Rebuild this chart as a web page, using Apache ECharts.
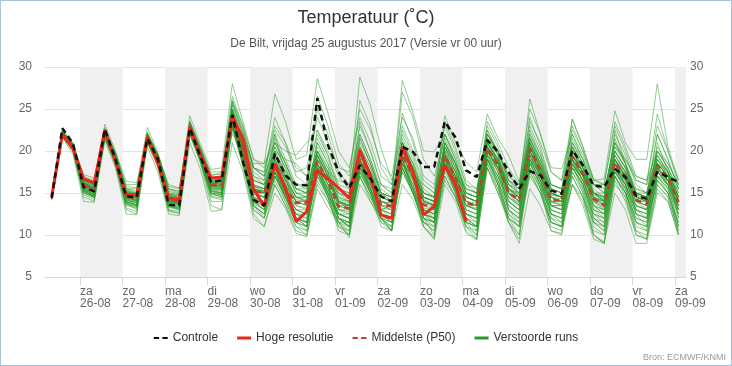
<!DOCTYPE html>
<html><head><meta charset="utf-8">
<script src="https://cdn.jsdelivr.net/npm/echarts@6/dist/echarts.min.js"></script>
<style>
html,body{margin:0;padding:0;background:#fff}
#c{position:absolute;left:0;top:0;width:732px;height:366px}
#f{position:absolute;left:0;top:0;width:732px;height:366px;box-sizing:border-box;border:1px solid #a8c3dc;pointer-events:none}
</style>
</head><body><div id="c"></div><div id="f"></div>
<script>
// x axis in hours since 25-08-2017 00:00 (local time); data every 6 h from 25-08 08:00
const dayTicks = [24,48,72,96,120,144,168,192,216,240,264,288,312,336,360];
const dayLabels = ['za\n26-08','zo\n27-08','ma\n28-08','di\n29-08','wo\n30-08','do\n31-08','vr\n01-09','za\n02-09','zo\n03-09','ma\n04-09','di\n05-09','wo\n06-09','do\n07-09','vr\n08-09','za\n09-09'];
const shadedDays = [[24,48],[72,96],[120,144],[168,192],[216,240],[264,288],[312,336],[360,366.2]];

const controle = [14.4, 22.7,20.9,15.7,15.2, 22.6,19.0,14.6,14.5, 21.5,19.0,13.6,13.5, 22.7,19.3,16.3,16.5, 24.3,18.7,14.2,13.5, 19.7,17.1,16.0,15.9, 26.3,20.7,17.5,15.6, 18.3,16.7,14.6,14.0, 20.5,19.9,18.1,18.1, 23.5,21.6,17.7,16.9, 21.3,19.9,17.5,15.5, 17.6,17.1,15.3,14.9, 20.1,18.3,15.9,15.7, 17.9,16.9,14.7,14.3, 17.5,16.9,16.3];
const hogeResolutie = [14.6, 22.0,20.3,16.7,16.2, 22.5,18.8,14.8,14.8, 21.7,18.5,14.4,14.2, 22.9,19.5,16.8,16.9, 24.1,21.5,15.5,13.4, 18.5,15.6,11.6,12.8, 17.7,16.7,15.6,14.4, 20.1,17.1,12.4,12.0, 20.5,17.5,12.4,13.4, 18.3,16.0,11.6];
const middelste = [14.5, 22.0,20.5,16.0,15.3, 22.2,19.0,14.6,14.3, 21.6,19.0,14.2,14.0, 22.6,19.4,16.0,15.8, 24.0,20.0,15.2,15.0, 18.3,15.5,13.8,13.8, 18.7,16.5,13.4,13.2, 19.0,16.5,13.6,13.4, 19.5,17.0,13.6,13.3, 19.5,16.8,13.8,13.5, 20.3,18.4,15.0,14.2, 20.3,17.6,14.2,14.1, 19.3,17.3,14.3,13.5, 18.6,17.0,14.2,13.7, 18.3,16.8,13.9];

const verstoordeRuns = [
[14.5, 22.2,20.7,16.3,15.6, 22.5,19.2,15.0,14.6, 21.8,19.3,14.6,14.2, 23.0,19.8,16.4,16.2, 24.8,20.5,15.8,15.2, 19.0,16.2,14.2,14.0, 19.5,17.0,13.8,13.5, 20.0,17.2,14.0,13.8, 20.5,17.8,14.2,13.6, 20.0,17.5,14.5,14.0, 21.0,18.8,15.5,14.8, 21.0,18.0,14.8,14.5, 20.0,17.8,15.0,14.2, 19.5,17.5,14.6,14.0, 19.0,17.2,14.5],
[14.2, 21.7,20.0,15.0,14.5, 21.5,18.5,13.5,13.2, 21.0,18.3,13.0,12.8, 22.0,18.8,14.5,14.2, 22.5,18.5,13.0,12.0, 16.5,14.0,11.5,11.0, 17.0,15.0,12.0,11.5, 17.5,15.0,12.5,12.0, 18.0,15.5,12.0,11.5, 18.0,15.5,12.5,12.0, 19.0,16.5,13.0,12.0, 18.5,16.0,12.5,12.0, 17.5,15.5,12.0,11.0, 17.0,15.0,12.0,11.5, 16.5,15.0,11.5],
[14.6, 22.5,21.0,17.0,16.5, 23.2,20.0,16.0,16.0, 22.8,19.8,15.5,15.2, 24.2,20.8,17.8,18.0, 28.0,23.5,19.0,18.5, 26.8,23.5,19.0,19.5, 28.6,24.5,20.0,18.0, 24.0,21.0,17.0,16.0, 22.0,19.0,15.0,14.5, 21.0,18.0,14.5,14.0, 22.5,19.5,15.0,14.0, 21.0,18.0,15.0,14.5, 20.0,18.0,15.0,14.0, 19.5,17.5,14.5,14.0, 19.0,17.0,14.0],
[14.3, 21.8,20.2,14.5,14.0, 21.8,18.8,13.0,12.5, 21.2,18.5,13.0,12.5, 22.3,18.5,13.5,13.0, 23.0,18.0,12.5,11.0, 16.0,13.5,10.5,10.0, 16.0,14.0,11.5,10.0, 18.5,15.5,12.0,10.5, 19.0,16.0,12.0,10.0, 18.5,15.5,11.5,10.0, 19.0,16.0,12.5,11.0, 19.0,16.5,13.0,12.5, 18.0,16.0,12.0,11.5, 18.0,16.0,13.0,12.0, 17.0,15.5,12.5],
[14.5, 22.0,20.6,16.5,15.8, 22.0,19.5,15.5,15.0, 21.5,19.5,15.0,14.8, 22.8,20.0,16.8,16.5, 25.5,22.0,17.5,16.5, 21.5,18.5,15.5,15.0, 21.0,18.5,15.0,14.0, 23.5,20.0,16.0,15.0, 24.5,21.0,16.5,15.5, 22.0,19.0,15.5,15.0, 23.0,20.5,16.5,15.0, 24.0,20.5,16.0,15.5, 22.0,19.0,15.5,14.5, 21.5,18.5,15.0,14.5, 22.0,19.0,15.5],
[14.4, 22.3,20.8,15.5,14.8, 22.3,18.5,14.0,13.5, 21.5,18.8,14.0,13.8, 22.5,19.2,15.5,15.0, 23.5,19.0,14.0,13.0, 18.0,15.0,12.5,11.5, 18.5,16.0,12.0,11.0, 19.0,16.0,12.5,12.0, 19.5,16.5,13.0,12.5, 18.0,15.5,12.0,10.5, 20.0,18.0,14.5,13.5, 20.5,17.0,13.5,13.0, 19.0,16.5,13.0,12.0, 17.5,16.0,12.5,12.0, 18.0,16.5,13.0],
[14.7, 22.4,20.9,16.8,16.2, 22.8,19.8,15.5,15.5, 22.0,19.5,15.8,15.5, 23.5,20.5,17.0,17.5, 26.5,23.0,19.0,18.0, 22.5,20.5,17.5,18.0, 24.0,21.0,18.0,17.5, 25.0,22.5,18.5,17.0, 24.0,21.5,17.0,16.0, 23.0,20.0,16.0,15.0, 22.0,20.0,16.5,15.5, 26.2,22.0,17.5,16.5, 23.8,20.5,16.5,16.7, 24.8,21.0,19.0,19.0, 28.0,20.5,16.5],
[14.3, 21.9,20.3,15.8,15.0, 21.9,18.8,14.2,13.8, 21.3,18.6,13.8,13.6, 22.4,19.0,15.4,15.2, 23.5,19.5,14.5,14.0, 17.5,14.5,12.0,11.5, 17.5,15.0,12.0,11.0, 17.0,14.5,11.9,11.0, 17.5,15.0,11.5,10.5, 16.5,14.5,11.0,9.5, 18.0,15.0,12.0,11.0, 17.0,15.0,11.5,11.0, 16.0,14.5,10.5,10.0, 16.0,14.5,10.5,10.0, 16.0,14.5,10.5],
[14.5, 22.1,20.5,16.2,15.5, 22.4,19.1,14.8,14.4, 21.7,19.1,14.3,14.1, 22.8,19.6,16.2,16.0, 24.5,20.8,16.0,15.5, 20.0,17.0,14.5,14.5, 18.0,16.0,13.0,13.0, 19.5,17.0,14.5,14.0, 21.0,18.0,14.0,13.5, 19.5,17.0,14.0,13.5, 20.5,18.5,15.5,14.5, 20.5,17.5,14.0,14.0, 19.0,17.0,14.5,13.5, 18.5,17.0,14.5,14.0, 18.5,17.0,14.0],
[14.6, 22.2,20.6,16.6,15.9, 22.1,19.3,15.2,14.8, 22.0,19.2,14.8,14.5, 23.0,19.9,16.5,16.5, 25.0,22.0,18.0,17.5, 23.0,21.0,18.0,17.0, 22.0,19.5,16.0,15.5, 28.8,25.4,20.3,16.5, 20.0,17.5,14.5,14.0, 19.5,17.0,13.5,13.0, 21.0,19.0,15.0,14.0, 20.0,17.5,14.0,13.5, 19.5,17.5,14.0,13.0, 19.0,17.5,14.0,13.5, 18.0,16.5,13.5],
[14.4, 21.8,20.4,15.2,14.6, 21.7,18.6,14.3,14.0, 21.4,18.7,14.0,13.8, 22.2,19.0,15.6,15.5, 24.0,19.5,14.5,13.5, 17.0,14.5,12.5,12.0, 18.0,15.5,12.5,12.5, 18.5,15.5,13.0,12.5, 19.0,16.5,13.0,12.5, 19.0,16.5,13.0,12.5, 20.0,18.0,15.0,13.5, 19.5,17.0,13.5,13.5, 18.5,16.5,13.5,13.0, 18.0,16.5,13.5,13.0, 17.5,16.0,13.5],
[14.2, 21.6,19.6,14.0,13.9, 21.2,18.0,12.5,12.4, 20.5,17.5,12.5,12.3, 21.0,17.8,12.8,13.0, 21.0,17.5,12.0,11.0, 15.0,13.2,10.2,9.8, 15.5,13.2,11.5,9.7, 16.0,14.0,12.0,10.5, 16.0,14.2,11.0,9.5, 16.0,14.0,10.2,9.5, 18.0,15.0,11.5,9.0, 15.5,13.5,10.5,10.2, 16.0,13.5,9.5,9.0, 15.0,13.0,9.0,9.0, 15.0,14.0,10.0],
[14.5, 22.0,20.5,16.0,15.4, 22.0,19.0,14.6,14.4, 21.6,19.0,14.2,14.0, 22.7,19.4,16.0,15.8, 24.2,20.0,15.5,15.0, 18.5,15.5,14.0,13.5, 19.0,16.5,13.5,13.0, 18.5,16.0,13.0,13.5, 20.0,17.5,14.0,13.0, 19.0,17.0,14.0,13.5, 20.5,18.5,15.0,14.5, 21.0,18.0,14.5,14.0, 19.5,17.0,14.0,13.5, 19.0,17.0,14.0,14.0, 18.5,17.0,14.0],
[14.6, 22.3,20.8,16.5,15.8, 22.6,19.5,15.2,14.9, 22.2,19.5,15.0,14.8, 23.4,20.0,16.8,16.8, 26.0,22.5,18.0,17.0, 24.0,21.0,17.0,16.0, 26.5,23.0,18.5,17.0, 22.0,19.0,15.5,14.5, 27.0,24.0,19.0,17.0, 21.5,18.5,15.0,14.5, 22.0,19.5,15.5,14.5, 22.5,19.5,15.5,15.0, 21.0,18.5,15.0,14.0, 22.0,19.5,16.0,15.0, 20.0,18.0,15.5],
[14.3, 21.9,20.2,15.6,14.9, 21.6,18.7,14.4,14.2, 21.2,18.6,14.0,13.7, 22.2,19.0,15.2,15.0, 23.0,18.5,13.5,12.5, 17.0,15.0,12.0,11.0, 18.0,15.5,12.0,11.5, 18.0,15.5,12.5,11.5, 18.5,15.5,12.5,12.0, 18.5,16.0,12.5,12.0, 19.5,17.0,13.5,12.5, 19.0,16.5,12.5,12.0, 18.0,16.0,12.5,11.5, 17.5,15.5,12.0,11.5, 17.0,15.5,12.0],
[14.5, 22.1,20.7,16.4,15.7, 22.3,19.3,15.0,14.7, 21.9,19.3,14.7,14.4, 23.0,19.8,16.4,16.3, 24.8,21.0,16.5,16.0, 19.5,17.5,15.5,15.5, 20.0,18.0,14.5,14.0, 21.5,18.5,15.0,14.0, 22.5,19.5,15.5,14.5, 21.0,18.5,15.5,15.0, 21.5,20.0,17.0,16.0, 22.0,19.5,16.0,15.5, 21.0,19.0,16.0,15.5, 20.5,19.0,16.5,16.0, 20.5,18.5,16.0],
[14.4, 21.7,20.1,15.4,14.8, 21.8,18.9,14.1,13.9, 21.5,18.9,13.9,13.6, 22.6,19.3,15.7,15.4, 23.8,19.8,15.0,14.5, 18.0,15.5,13.0,12.5, 18.5,16.0,13.0,12.5, 19.0,16.5,13.5,13.5, 19.5,17.0,13.0,12.5, 20.5,17.5,13.5,13.0, 20.0,18.0,14.5,13.5, 20.0,17.0,13.5,13.0, 19.0,17.0,13.5,13.0, 18.5,16.5,13.0,12.5, 18.0,16.5,13.0],
[14.6, 22.0,20.6,17.2,16.8, 22.0,19.8,16.4,16.2, 21.3,19.6,16.0,15.6, 22.0,20.2,17.5,17.5, 22.0,20.0,18.0,17.0, 20.0,19.0,18.5,17.0, 19.0,17.5,16.5,16.0, 18.5,17.0,16.0,15.5, 18.5,17.0,16.0,15.0, 18.0,17.0,15.5,15.0, 19.0,18.0,16.5,16.0, 18.5,17.5,16.0,15.5, 18.0,17.0,16.0,16.0, 17.5,16.5,15.5,15.0, 17.0,16.5,15.5],
[14.5, 22.0,20.4,15.9,15.2, 22.2,18.9,14.4,14.1, 21.7,19.0,14.1,13.9, 22.5,19.3,15.8,15.7, 24.0,20.0,15.0,14.5, 18.0,15.0,13.0,13.0, 18.0,15.5,12.5,12.0, 19.0,16.5,13.5,13.0, 19.5,17.0,13.5,13.0, 19.5,16.5,13.5,13.5, 21.0,19.0,15.0,14.0, 20.0,17.5,14.0,14.0, 19.5,17.5,14.5,13.5, 18.0,16.5,13.5,13.0, 18.0,16.5,13.5],
[14.3, 21.8,20.0,14.8,14.2, 21.9,18.2,13.2,12.8, 21.0,18.0,12.8,12.6, 22.0,18.8,14.0,14.0, 23.5,18.5,13.0,12.0, 17.5,14.0,11.0,10.5, 18.0,14.5,10.5,10.0, 18.5,15.0,11.0,10.5, 19.0,15.5,11.0,9.8, 19.0,15.0,11.0,10.0, 20.0,16.5,12.0,10.0, 19.5,16.0,11.5,11.0, 19.0,15.5,11.0,10.0, 18.0,15.0,11.0,10.5, 17.0,15.0,11.0],
[14.6, 22.4,20.9,16.7,16.0, 22.6,19.7,15.4,15.0, 22.2,19.6,15.2,14.9, 23.6,20.3,16.8,16.7, 25.8,22.0,17.0,16.0, 20.5,18.0,15.0,14.5, 21.5,19.0,15.5,15.0, 20.5,18.0,15.0,14.5, 21.0,18.5,15.0,14.5, 24.2,21.0,18.7,17.5, 24.4,21.5,19.5,16.3, 25.0,22.0,18.0,17.9, 22.0,19.5,16.0,15.0, 21.0,18.5,15.5,15.0, 22.0,19.0,15.5],
[14.4, 21.9,20.3,15.7,15.1, 22.0,18.8,14.5,14.1, 21.5,18.8,14.1,13.9, 22.4,19.2,15.8,15.6, 23.5,19.5,14.5,14.0, 18.5,16.0,13.5,13.0, 17.5,15.5,12.5,12.0, 18.0,15.5,13.0,12.5, 18.5,16.5,13.0,12.5, 19.0,16.0,13.0,12.5, 19.5,17.5,14.0,13.0, 19.0,16.5,13.5,13.5, 18.5,16.5,13.0,12.5, 18.5,16.5,13.5,13.0, 18.0,16.5,13.0],
[14.5, 22.2,20.6,16.2,15.5, 22.4,19.3,14.9,14.6, 21.8,19.2,14.5,14.2, 22.9,19.7,16.3,16.0, 24.5,20.5,15.5,15.0, 19.5,16.5,14.5,14.5, 20.0,17.5,14.0,13.5, 20.5,18.0,14.5,14.0, 21.0,18.0,14.0,13.5, 20.5,18.0,14.5,14.0, 21.5,19.5,16.0,15.0, 21.5,18.5,15.0,14.5, 20.5,18.0,14.5,14.0, 20.0,18.0,15.0,14.5, 19.5,17.5,14.5],
[14.3, 21.8,20.2,15.5,14.8, 21.7,18.5,13.8,13.5, 21.1,18.4,13.5,13.3, 22.2,18.9,15.0,14.8, 23.0,18.5,14.0,13.5, 17.0,14.5,12.0,11.5, 17.5,14.5,11.5,11.5, 17.0,14.5,12.0,11.5, 18.0,15.0,12.0,11.5, 17.5,15.0,11.5,11.0, 18.5,16.0,12.5,11.5, 18.0,15.5,12.0,11.5, 17.5,15.0,11.5,11.0, 17.0,15.0,11.5,11.0, 16.5,15.0,11.0],
[14.5, 22.1,20.5,16.0,15.4, 22.2,19.1,14.7,14.4, 21.6,19.0,14.3,14.0, 22.8,19.5,16.1,15.9, 24.2,20.5,15.5,15.0, 19.0,16.5,14.0,13.5, 19.5,17.0,13.5,13.0, 20.0,17.0,13.5,13.0, 20.0,17.5,14.0,13.5, 20.5,18.0,14.5,14.0, 21.0,19.0,16.0,15.0, 23.0,20.0,16.0,15.5, 23.8,20.5,16.7,16.0, 23.0,20.0,16.5,16.0, 24.4,20.0,16.0],
[14.4, 22.0,20.3,15.2,14.5, 21.9,18.7,13.8,13.0, 21.4,18.7,13.5,13.0, 22.5,19.0,15.0,14.5, 24.0,19.5,13.5,12.5, 18.5,15.0,12.0,11.0, 18.0,15.0,12.0,11.0, 19.0,15.5,12.5,11.5, 19.0,15.5,12.0,11.0, 19.5,16.0,12.0,11.0, 20.5,17.5,13.0,12.0, 20.0,16.5,12.0,11.0, 19.5,16.0,11.5,10.5, 19.0,16.0,11.5,10.5, 18.5,16.0,11.0],
[14.6, 22.3,20.8,16.6,16.0, 22.6,19.6,15.3,14.9, 22.1,19.4,14.9,14.6, 23.4,20.2,16.8,16.6, 26.0,23.0,18.0,17.5, 22.0,19.0,16.0,16.0, 22.5,19.5,15.5,15.0, 23.0,20.0,16.0,15.0, 28.4,24.6,20.0,19.9, 22.0,19.5,16.0,15.5, 21.5,19.0,15.5,14.5, 21.5,18.5,15.0,14.5, 20.5,18.0,14.5,14.0, 20.0,18.0,14.5,14.0, 19.0,17.5,14.0],
[14.4, 21.9,20.3,15.6,15.0, 21.8,18.8,14.2,13.9, 21.4,18.7,13.9,13.7, 22.5,19.1,15.5,15.3, 23.5,19.0,14.0,13.5, 17.5,15.0,12.5,12.5, 18.0,15.5,12.5,12.0, 17.5,15.0,12.0,12.0, 18.5,16.0,12.5,12.0, 18.0,15.5,12.0,11.5, 19.0,17.0,13.5,12.5, 18.5,16.0,13.0,12.5, 18.0,16.0,12.5,12.0, 17.5,15.5,12.5,12.0, 17.5,16.0,12.5],
[14.5, 22.2,20.7,16.3,15.6, 22.5,19.4,15.1,14.7, 21.9,19.3,14.7,14.4, 23.1,19.9,16.5,16.3, 25.0,21.0,16.5,16.0, 20.0,17.5,15.0,15.0, 20.5,18.0,14.5,14.0, 21.0,18.5,15.0,14.5, 21.5,18.5,14.5,14.0, 21.0,18.5,15.0,14.5, 22.0,20.0,16.5,15.5, 21.5,19.0,15.5,15.0, 21.0,18.5,15.0,14.5, 20.5,18.5,15.0,15.0, 20.0,18.0,15.0],
[14.4, 21.8,20.2,15.3,14.7, 21.8,18.6,14.0,13.6, 21.3,18.6,13.6,13.4, 22.3,19.0,15.3,15.0, 23.0,19.0,14.0,13.0, 18.0,15.0,12.5,12.0, 17.0,14.5,12.5,12.0, 20.0,17.0,14.0,13.5, 20.5,17.0,13.0,12.0, 19.0,16.5,12.5,11.5, 20.5,18.0,14.0,13.0, 19.5,17.0,13.5,13.0, 20.0,17.5,13.5,12.5, 19.0,17.0,13.5,13.0, 18.5,17.0,13.5],
[14.4, 21.9,20.4,15.8,15.1, 22.0,18.9,14.4,14.1, 21.5,18.9,14.0,13.8, 22.5,19.2,15.8,15.5, 23.8,19.8,14.8,14.5, 18.0,15.2,13.5,13.2, 18.5,16.0,13.0,12.8, 18.8,16.2,13.2,13.0, 19.2,16.8,13.2,13.0, 19.2,16.5,13.5,13.2, 20.0,18.0,14.5,13.8, 20.0,17.2,13.8,13.8, 19.0,17.0,14.0,13.2, 18.3,16.8,14.0,13.5, 18.0,16.5,13.5],
[14.5, 22.1,20.6,16.2,15.5, 22.3,19.1,14.8,14.5, 21.7,19.1,14.4,14.2, 22.8,19.6,16.2,16.0, 24.3,20.3,15.5,15.2, 18.8,15.8,14.0,14.0, 19.0,16.8,13.8,13.5, 19.3,16.8,13.9,13.8, 19.8,17.3,14.0,13.6, 19.8,17.0,14.0,13.8, 20.6,18.7,15.3,14.5, 20.6,17.9,14.5,14.3, 19.6,17.5,14.5,13.8, 18.9,17.2,14.5,14.0, 18.6,17.0,14.2],
[14.5, 22.0,20.4,15.5,14.8, 22.5,19.0,14.0,13.8, 21.8,18.8,13.6,13.4, 23.0,19.5,15.2,14.8, 25.0,21.0,14.5,13.5, 22.0,17.0,12.0,11.0, 19.5,16.0,12.0,11.0, 20.5,17.0,12.5,11.5, 21.0,17.5,12.5,11.5, 20.0,16.5,12.0,11.0, 21.5,18.5,13.0,11.5, 21.0,17.5,12.5,11.5, 20.5,17.0,12.0,11.0, 22.5,18.5,12.5,11.0, 21.0,17.5,12.0],
[14.6, 22.2,20.8,16.8,16.2, 22.4,19.6,15.6,15.2, 22.0,19.5,15.4,15.0, 23.2,20.4,17.2,17.2, 24.5,21.5,18.5,18.5, 21.0,20.0,19.5,21.0, 22.5,20.0,17.0,15.5, 20.0,17.5,14.5,14.0, 20.5,18.0,15.0,14.5, 19.5,17.5,14.5,14.0, 20.5,19.0,16.0,15.5, 20.5,18.5,15.5,15.0, 19.5,18.0,15.0,14.5, 19.0,17.5,15.0,14.5, 18.5,17.5,15.0],
[14.5, 22.1,20.5,16.1,15.4, 22.2,19.1,14.7,14.4, 21.7,19.1,14.3,14.1, 22.7,19.5,16.0,15.8, 24.3,20.5,15.8,15.5, 19.5,17.0,14.5,14.0, 20.0,17.5,14.0,13.5, 26.0,23.0,18.0,16.0, 23.0,20.0,16.0,15.0, 22.0,19.0,15.0,14.5, 21.0,18.5,15.0,14.0, 20.5,18.0,14.5,14.0, 19.5,17.5,14.5,13.5, 19.0,17.0,14.0,13.5, 18.5,17.0,14.0],
[14.3, 21.8,20.1,15.3,14.6, 21.6,18.5,13.9,13.6, 21.0,18.3,13.4,13.1, 22.0,18.8,14.8,14.6, 23.0,18.8,13.8,13.0, 17.5,14.8,12.0,11.5, 17.5,15.0,12.0,11.5, 18.0,15.0,12.0,11.0, 18.0,15.0,11.5,10.5, 17.0,14.5,11.0,10.5, 18.5,15.5,11.5,10.0, 17.5,15.0,11.0,10.5, 17.0,14.5,10.0,9.2, 16.5,14.0,10.0,9.5, 16.0,14.5,10.5],
[14.5, 22.0,20.6,16.2,15.6, 22.2,19.2,14.9,14.6, 21.7,19.2,14.6,14.3, 22.8,19.7,16.3,16.1, 24.0,20.5,15.8,15.5, 19.0,16.5,14.5,14.0, 19.5,17.0,14.0,13.5, 19.5,17.0,14.0,13.5, 20.0,17.5,14.5,14.0, 21.0,18.5,15.0,14.5, 22.0,20.0,17.0,16.0, 23.5,21.0,17.5,16.5, 22.5,20.0,16.5,16.0, 23.5,20.5,17.0,16.5, 23.0,20.0,16.5],
[14.4, 21.9,20.2,15.4,14.7, 21.8,18.7,14.0,13.6, 21.2,18.5,13.6,13.4, 22.3,18.9,15.2,15.0, 23.2,18.8,13.5,12.0, 16.0,13.5,11.0,10.0, 16.5,14.0,11.0,10.0, 17.0,14.0,11.5,10.5, 18.5,15.5,12.5,12.0, 19.0,16.0,12.5,12.0, 20.0,17.5,14.0,13.0, 19.5,17.0,13.5,13.0, 18.5,16.5,13.0,12.5, 18.0,16.0,13.0,12.5, 18.0,16.0,13.0],
[14.5, 22.1,20.5,16.0,15.3, 22.3,19.0,14.6,14.3, 21.6,19.0,14.2,14.0, 22.7,19.4,16.0,15.8, 24.0,20.2,15.5,15.2, 20.5,18.0,15.0,14.5, 21.0,18.5,15.0,14.5, 22.0,19.0,15.0,14.0, 20.0,17.5,14.5,14.0, 18.5,16.5,13.5,13.0, 20.0,18.0,15.0,14.0, 22.0,19.0,15.0,14.5, 21.5,19.0,15.0,14.0, 20.0,18.0,15.0,14.5, 19.5,17.5,14.5],
[14.4, 21.9,20.3,15.6,15.0, 21.9,18.8,14.3,14.0, 21.4,18.8,14.0,13.7, 22.4,19.1,15.6,15.4, 23.6,19.3,14.3,13.8, 17.5,15.0,13.0,12.5, 17.5,15.0,12.5,12.0, 18.0,15.5,12.5,12.0, 18.5,16.0,12.5,12.0, 18.5,16.0,12.5,12.0, 19.0,17.0,14.0,13.0, 19.0,16.5,13.0,12.5, 18.5,16.5,13.5,12.5, 17.5,16.0,13.0,12.5, 17.0,16.0,13.0],
[14.6, 22.3,20.8,16.6,16.0, 22.5,19.5,15.2,14.8, 22.0,19.4,14.8,14.5, 23.2,20.0,16.6,16.5, 25.5,22.5,18.0,17.0, 21.0,18.5,15.5,15.0, 20.0,17.5,14.0,13.0, 18.5,16.0,13.0,12.0, 18.0,15.5,12.5,11.5, 18.0,15.5,12.0,11.0, 19.0,16.5,13.0,12.0, 18.5,16.0,12.5,12.0, 18.0,16.0,12.5,12.0, 18.0,16.0,12.5,12.0, 17.5,16.0,12.5],
[14.5, 22.0,20.6,16.8,16.3, 22.0,19.4,15.8,15.6, 21.5,19.3,15.5,15.2, 22.5,19.8,16.8,16.8, 23.0,20.0,16.5,16.0, 18.5,17.0,16.0,15.5, 18.0,16.5,15.0,14.5, 18.0,16.5,15.0,14.5, 18.5,17.0,15.0,14.5, 18.0,16.5,14.5,14.0, 19.5,18.0,15.5,15.0, 19.0,17.5,15.0,14.5, 18.5,17.0,15.0,14.5, 18.0,16.5,14.5,14.5, 17.5,16.5,14.5],
[14.5, 22.1,20.5,16.1,15.5, 22.3,19.2,14.8,14.5, 21.8,19.2,14.5,14.2, 22.9,19.6,16.2,16.0, 24.5,20.5,15.5,15.0, 19.0,16.5,14.0,13.5, 19.5,17.0,14.0,13.5, 20.0,17.5,14.0,13.5, 21.0,18.0,14.5,14.0, 23.5,20.5,16.5,15.5, 22.5,20.0,16.0,15.0, 21.0,18.5,15.0,14.5, 23.0,20.0,16.0,15.0, 21.0,18.5,15.0,14.5, 20.0,18.0,14.5],
[14.3, 21.8,20.1,15.1,14.5, 21.7,18.5,13.7,13.4, 21.2,18.4,13.4,13.2, 22.1,18.9,14.9,14.6, 23.2,19.0,14.0,13.0, 17.0,14.5,12.0,11.5, 17.0,14.5,11.5,11.0, 17.5,15.0,12.0,11.5, 17.5,15.0,12.0,11.5, 17.0,14.5,11.5,11.0, 18.0,15.5,12.0,11.0, 17.5,15.0,11.5,11.0, 17.0,14.5,11.5,10.5, 17.0,15.0,11.5,11.0, 16.5,15.0,11.5],
[14.5, 22.0,20.5,16.0,15.3, 22.2,19.0,14.5,14.2, 21.6,19.0,14.2,14.0, 22.6,19.4,15.9,15.7, 24.0,20.0,15.0,14.5, 18.3,15.5,13.0,12.5, 18.5,16.5,14.0,13.8, 19.0,16.5,13.0,12.5, 19.5,17.0,14.5,14.0, 19.5,17.0,13.0,12.5, 20.5,18.5,15.5,14.5, 20.0,17.5,14.0,13.5, 19.0,17.0,14.5,14.0, 18.5,17.0,14.0,13.0, 18.0,16.5,14.0],
[14.6, 22.3,20.7,16.5,15.9, 22.5,19.4,15.1,14.8, 22.0,19.4,14.9,14.6, 23.2,20.0,16.7,16.5, 25.0,21.5,17.0,16.5, 21.0,18.5,15.5,15.0, 25.0,22.0,17.5,16.0, 21.5,18.5,15.0,14.5, 21.0,18.5,15.0,14.5, 20.5,18.5,15.0,14.5, 23.5,21.0,18.0,16.0, 21.5,19.0,15.5,15.0, 20.5,18.5,15.0,14.5, 20.0,18.0,15.0,14.5, 19.5,17.5,14.5],
[14.4, 21.9,20.2,15.2,14.6, 21.9,18.6,13.8,13.4, 21.3,18.5,13.5,13.2, 22.3,19.0,15.0,14.8, 23.5,19.0,13.5,12.5, 18.0,14.5,11.5,10.5, 18.5,15.0,11.5,10.5, 19.0,15.5,12.0,10.5, 19.0,15.0,11.0,9.5, 18.5,15.0,10.5,9.4, 19.5,16.0,11.5,9.5, 19.0,15.5,10.5,10.0, 18.5,15.0,10.0,9.0, 18.5,15.5,10.5,9.5, 18.0,15.5,10.0],
[14.5, 22.2,20.6,16.3,15.6, 22.4,19.3,15.0,14.6, 21.8,19.2,14.5,14.3, 22.9,19.7,16.3,16.1, 24.6,20.8,16.0,15.5, 19.5,16.8,14.5,14.2, 19.8,17.2,14.2,14.0, 20.2,17.5,14.5,14.0, 20.5,17.8,14.5,14.0, 20.2,17.5,14.5,14.0, 21.0,19.0,15.5,14.8, 21.0,18.2,14.8,14.5, 20.0,18.0,14.8,14.2, 19.5,17.5,14.8,14.3, 19.0,17.5,14.5],
[14.5, 22.0,20.5,16.0,15.4, 22.1,19.0,14.7,14.4, 21.6,19.0,14.3,14.1, 22.6,19.4,16.0,15.8, 24.0,20.0,15.2,15.0, 18.5,16.0,14.0,14.0, 19.0,16.5,13.5,13.5, 19.5,17.0,14.0,13.5, 20.0,17.5,14.0,13.5, 19.5,17.0,14.0,13.5, 20.5,18.5,15.0,14.5, 20.0,17.5,14.5,14.0, 19.5,17.5,15.0,15.0, 21.0,19.0,17.0,16.5, 20.0,18.5,16.0],
[14.3, 21.7,20.0,15.0,14.4, 21.6,18.4,13.6,13.3, 21.1,18.3,13.3,13.0, 22.0,18.7,14.6,14.4, 22.8,18.5,13.5,12.5, 17.0,14.5,11.5,11.0, 17.5,14.5,11.0,10.5, 18.0,15.0,11.5,11.0, 18.0,15.0,11.5,11.0, 18.0,15.0,11.5,11.0, 19.0,16.0,12.0,11.0, 18.0,15.5,11.5,11.0, 16.0,14.0,10.0,9.0, 17.0,14.5,10.0,9.5, 15.5,14.0,10.0]
];

const hourOf = i => 8 + 6 * i;
const pts = arr => arr.map((v, i) => [hourOf(i), v]);

const FONT = 'Liberation Sans, Arial, sans-serif';
const DASH_ICON = 'path://M0,0H5V2H0ZM8,0H13V2H8Z';
const series = [];
series.push({
  type: 'line', data: [], silent: true,
  markArea: { silent: true, itemStyle: { color: '#f0f0f0' },
    data: shadedDays.map(d => [{ xAxis: d[0] }, { xAxis: d[1] }]) }
});
verstoordeRuns.forEach(run => series.push({
  name: 'Verstoorde runs', type: 'line', data: pts(run), symbol: 'none', silent: true,
  color: '#2a9a2a', lineStyle: { width: 1, color: '#2a9a2a', opacity: 0.5 }, z: 2
}));
series.push({ name: 'Middelste (P50)', type: 'line', data: pts(middelste), symbol: 'none',
  color: '#b8452c', lineStyle: { width: 2.5, type: [6, 4], color: '#b8452c' }, z: 3 });
series.push({ name: 'Hoge resolutie', type: 'line', data: pts(hogeResolutie), symbol: 'none',
  color: '#e8291c', lineStyle: { width: 3, color: '#e8291c' }, z: 4 });
series.push({ name: 'Controle', type: 'line', data: pts(controle), symbol: 'none',
  color: '#111', lineStyle: { width: 2.5, type: [6, 4], color: '#111' }, z: 5 });

const chart = echarts.init(document.getElementById('c'), null, { renderer: 'canvas' });
chart.setOption({
  animation: false,
  backgroundColor: '#fff',
  textStyle: { fontFamily: FONT },
  title: [
    { text: 'Temperatuur (˚C)', left: 'center', top: 4,
      textStyle: { fontSize: 18, fontWeight: 'normal', color: '#333', fontFamily: FONT } },
    { text: 'De Bilt, vrijdag 25 augustus 2017 (Versie vr 00 uur)', left: 'center', top: 33,
      textStyle: { fontSize: 12, fontWeight: 'normal', color: '#555', fontFamily: FONT } }
  ],
  legend: {
    top: 327, left: 'center', itemWidth: 14, itemHeight: 3, itemGap: 19,
    textStyle: { fontSize: 12, color: '#333', fontFamily: FONT },
    data: [
      { name: 'Controle', icon: DASH_ICON },
      { name: 'Hoge resolutie', icon: 'rect' },
      { name: 'Middelste (P50)', icon: DASH_ICON },
      { name: 'Verstoorde runs', icon: 'rect' }
    ]
  },
  grid: { left: 45, right: 46, top: 67, bottom: 89, containLabel: false },
  xAxis: {
    type: 'value', min: 4.2, max: 366.2,
    axisLine: { show: true, lineStyle: { color: '#ccd6eb' } },
    axisTick: { show: true, length: 8, customValues: dayTicks, lineStyle: { color: '#ccd6eb' } },
    axisLabel: { customValues: dayTicks, align: 'left', margin: 9, lineHeight: 12,
      color: '#666', fontSize: 12, fontFamily: FONT,
      formatter: v => dayLabels[dayTicks.indexOf(v)] || '' },
    splitLine: { show: false }
  },
  yAxis: [
    { type: 'value', min: 5, max: 30, interval: 5, position: 'left',
      axisLine: { show: false }, axisTick: { show: false },
      axisLabel: { margin: 13, color: '#666', fontSize: 12, fontFamily: FONT },
      splitLine: { lineStyle: { color: '#dfe3e8' } } },
    { type: 'value', min: 5, max: 30, interval: 5, position: 'right',
      axisLine: { show: false }, axisTick: { show: false },
      axisLabel: { margin: 4, color: '#666', fontSize: 12, fontFamily: FONT },
      splitLine: { show: false } }
  ],
  graphic: [{ type: 'text', right: 6, bottom: 4,
    style: { text: 'Bron: ECMWF/KNMI', fontSize: 9, fill: '#999', fontFamily: FONT } }],
  series: series
});
</script>
</body></html>
